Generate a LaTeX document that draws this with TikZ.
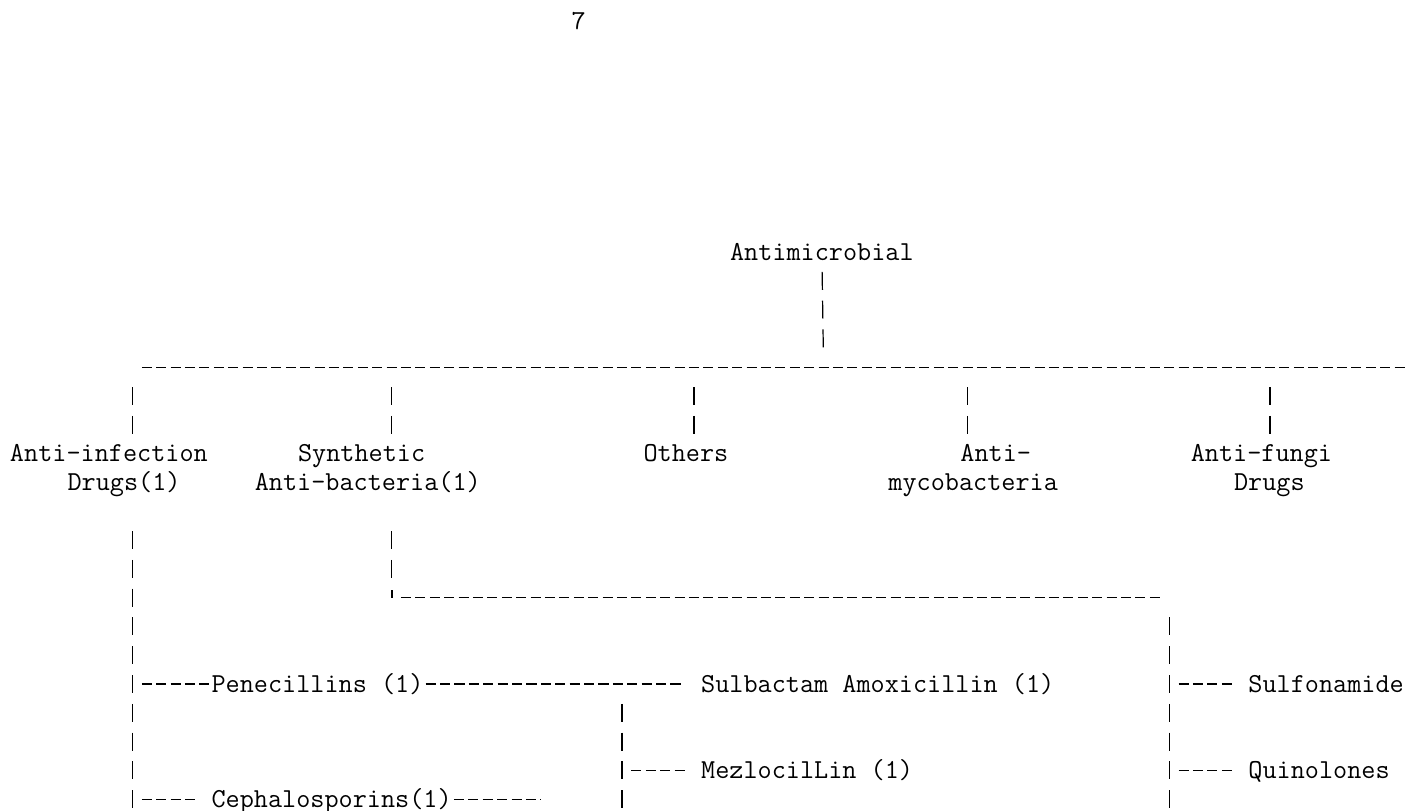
\documentclass[tikz,border=0pt]{standalone}
\usetikzlibrary{calc}
\newcommand{\asciifont}{\ttfamily\fontsize{13.714pt}{14.4pt}\selectfont}
\tikzset{
  lbl/.style={anchor=west, inner sep=0pt, outer sep=0pt, text height=8pt, text depth=0pt},
  vlink/.style={line width=0.6pt, dash pattern=on 9pt off 5.4pt, shorten <=9.9pt, shorten >=9.9pt},
  hlink/.style={line width=0.6pt, dash pattern=on 5.04pt off 2.16pt},
  apos/.style={line width=1.1pt},
}
\begin{document}
\begin{tikzpicture}[x=7.2pt, y=-14.4pt, font=\asciifont]
\useasboundingbox (-0.6944,-8.75) rectangle (96.9444,19.375);

% page number
\node[lbl] (pageno) at (39,-8) {7};

% root and first level
\node[lbl] (root) at (50,0) {Antimicrobial};
\node[lbl] (infect) at (0,7) {Anti-infection};
\node[lbl] (infectb) at (4,8) {Drugs(1)};
\node[lbl] (synth) at (20,7) {Synthetic};
\node[lbl] (synthb) at (17,8) {Anti-bacteria(1)};
\node[lbl] (others) at (44,7) {Others};
\node[lbl] (myco) at (66,7) {Anti-};
\node[lbl] (mycob) at (61,8) {mycobacteria};
\node[lbl] (fungi) at (82,7) {Anti-fungi};
\node[lbl] (fungib) at (85,8) {Drugs};

% second level
\node[lbl] (pen) at (14,15) {Penecillins (1)};
\node[lbl] (sulb) at (48,15) {Sulbactam Amoxicillin (1)};
\node[lbl] (mez) at (48,18) {MezlocilLin (1)};
\node[lbl] (ceph) at (14,19) {Cephalosporins(1)};
\node[lbl] (sulf) at (86,15) {Sulfonamide};
\node[lbl] (quin) at (86,18) {Quinolones};

% junctions
\coordinate (busroot) at (56.5,4);
\coordinate (busend) at (97,4);
\foreach \n/\c in {infect/8.5, synth/26.5, others/47.5, myco/66.5, fungi/87.5}{
  \coordinate (\n-up) at (\c,4);
  \coordinate (\n-dn) at (\c,7);
}
\coordinate (infect-top) at (8.5,9);
\coordinate (pen-j) at (8.5,15);
\coordinate (ceph-j) at (8.5,19);
\coordinate (infect-bot) at (8.5,20);
\coordinate (synth-top) at (26.5,9);
\coordinate (synth-turn) at (26.5,12);
\coordinate (sulf-top) at (80.5,12);
\coordinate (sulf-j) at (80.5,15);
\coordinate (quin-j) at (80.5,18);
\coordinate (sulf-bot) at (80.5,20);
\coordinate (pen-k) at (42.5,15);
\coordinate (mez-j) at (42.5,18);
\coordinate (pen-bot) at (42.5,20);
\coordinate (ceph-end) at (37,19);

% top bus
\draw[vlink] (root.center) -- (busroot);
\draw[hlink, shorten <=4.68pt, shorten >=1.08pt] (infect-up) -- (busend);
\foreach \n in {infect, synth, others, myco, fungi}
  \draw[vlink] (\n-up) -- (\n-dn);

% anti-infection branch
\draw[vlink] (infect-top) -- (infect-bot);
\draw[hlink, shorten <=4.68pt, shorten >=1.08pt] (pen-j) -- (pen.west);
\draw[hlink, shorten <=1.08pt, shorten >=8.28pt] (pen.east) -- (sulb.west);
\draw[vlink] (pen-k) -- (pen-bot);
\draw[hlink, shorten <=4.68pt, shorten >=8.28pt] (mez-j) -- (mez.west);
\draw[hlink, shorten <=4.68pt, shorten >=8.28pt] (ceph-j) -- (ceph.west);
\draw[hlink, shorten <=1.08pt, shorten >=1.08pt] (ceph.east) -- (ceph-end);

% synthetic branch
\draw[vlink] (synth-top) -- (synth-turn);
\draw[apos] (synth-turn) -- ++(0,-0.26);
\draw[hlink, shorten <=4.68pt, shorten >=4.68pt] (synth-turn) -- (sulf-top);
\draw[vlink] (sulf-top) -- (sulf-bot);
\draw[hlink, shorten <=4.68pt, shorten >=8.28pt] (sulf-j) -- (sulf.west);
\draw[hlink, shorten <=4.68pt, shorten >=8.28pt] (quin-j) -- (quin.west);
\end{tikzpicture}
\end{document}
